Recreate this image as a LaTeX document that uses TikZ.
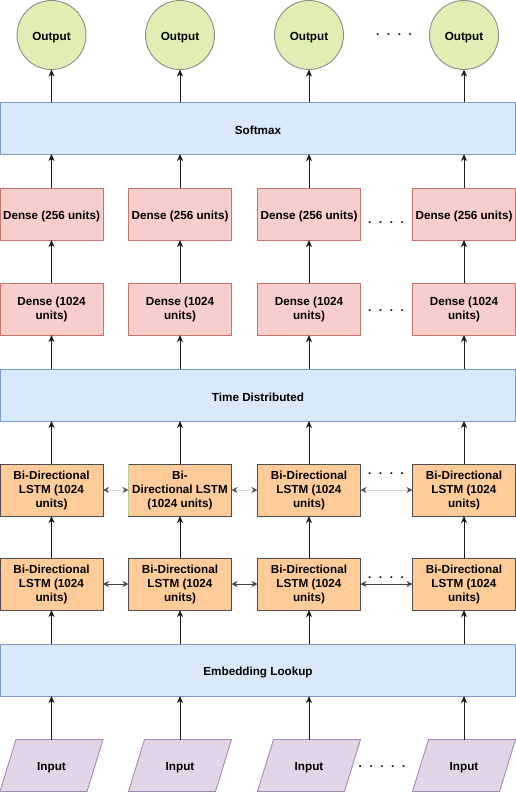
\documentclass[tikz,border=0pt]{standalone}
\usepackage{fontspec}
\setmainfont{Liberation Sans}
\usetikzlibrary{arrows.meta,backgrounds}
\definecolor{outfill}{HTML}{E0EEB3}
\definecolor{outstroke}{HTML}{8C8C8C}
\definecolor{barfill}{HTML}{DAE8FC}
\definecolor{barstroke}{HTML}{7E9CC8}
\definecolor{densefill}{HTML}{F8CECC}
\definecolor{densestroke}{HTML}{C8736E}
\definecolor{lstmfill}{HTML}{FFCC99}
\definecolor{lstmstroke}{HTML}{4D4D4D}
\definecolor{lstmalt}{HTML}{B8CC8E}
\definecolor{inpfill}{HTML}{E1D5E7}
\definecolor{inpstroke}{HTML}{A48AB3}
\definecolor{arrcol}{HTML}{1A1A1A}
\definecolor{lightline}{HTML}{D4D4D4}
\definecolor{headgray}{HTML}{555555}
\definecolor{darkline}{HTML}{444444}
\newcommand{\mydots}[1]{\foreach \i in {1,...,#1}{\ifnum\i>1\hspace{7.6pt}\fi.}}
\newcommand{\tstrut}{\rule{0pt}{13pt}}
\begin{document}
\begin{tikzpicture}[x=1pt,y=-1pt,
  font=\fontsize{11.7}{14}\selectfont\bfseries,
  every node/.style={inner sep=0pt, outer sep=0pt},
  shaped/.style={execute at begin node=\tstrut, line width=0.9pt},
  bar/.style={shaped, draw=barstroke, fill=barfill, minimum width=515, minimum height=52},
  densebox/.style={shaped, draw=densestroke, fill=densefill, minimum width=103, minimum height=52, align=center},
  lstmbox/.style={shaped, draw=lstmstroke, fill=lstmfill, minimum width=103, minimum height=52, align=center},
  outc/.style={shaped, circle, draw=outstroke, fill=outfill, minimum size=69},
  inpbox/.style={shaped, minimum width=103, minimum height=52},
  inpshape/.style={draw=inpstroke, fill=inpfill, line width=0.9pt},
  arr/.style={draw=arrcol, line width=1pt, -{Stealth[length=7pt,width=6pt,inset=2pt]}},
  lightarr/.style={draw=lightline, line width=1pt, {Stealth[length=6pt,width=6pt,inset=2pt,color=headgray]}-{Stealth[length=6pt,width=6pt,inset=2pt,color=headgray]}},
  darkarr/.style={draw=darkline, line width=1pt, {Stealth[length=6pt,width=6pt,inset=2pt]}-{Stealth[length=6pt,width=6pt,inset=2pt]}},
  dotsnode/.style={anchor=base}
]
\useasboundingbox (0,0) rectangle (516,792);

% outputs
\node[outc] (o1) at (51.5,35) {Output};
\node[outc] (o2) at (180,35) {Output};
\node[outc] (o3) at (309,35) {Output};
\node[outc] (o4) at (464,35) {Output};
\node[dotsnode] (do) at (394,36) {\mydots{4}};

% softmax
\node[bar] (soft) at (258,128) {Softmax};

% dense 256
\node[densebox] (a1) at (51.5,214) {Dense (256 units)};
\node[densebox] (a2) at (180,214) {Dense (256 units)};
\node[densebox] (a3) at (309,214) {Dense (256 units)};
\node[densebox] (a4) at (464,214) {Dense (256 units)};
\node[dotsnode] (da) at (386,223) {\mydots{4}};

% dense 1024
\node[densebox] (b1) at (51.5,309) {Dense (1024\\units)};
\node[densebox] (b2) at (180,309) {Dense (1024\\units)};
\node[densebox] (b3) at (309,309) {Dense (1024\\units)};
\node[densebox] (b4) at (464,309) {Dense (1024\\units)};
\node[dotsnode] (db) at (386,311) {\mydots{4}};

% time distributed
\node[bar] (td) at (258,395) {Time Distributed};

% LSTM row 1
\node[lstmbox] (l1) at (51.5,490) {Bi-Directional\\LSTM (1024\\units)};
\node[lstmbox] (l2) at (180,490) {Bi-\\Directional LSTM\\(1024 units)};
\node[lstmbox] (l3) at (309,490) {Bi-Directional\\LSTM (1024\\units)};
\node[lstmbox] (l4) at (464,490) {Bi-Directional\\LSTM (1024\\units)};
\draw[lstmalt, line width=0.9pt] (l2.north west) -- (l2.south west);
\node[dotsnode] (dl) at (386,474) {\mydots{4}};

% LSTM row 2
\node[lstmbox] (m1) at (51.5,584) {Bi-Directional\\LSTM (1024\\units)};
\node[lstmbox] (m2) at (180,584) {Bi-Directional\\LSTM (1024\\units)};
\node[lstmbox] (m3) at (309,584) {Bi-Directional\\LSTM (1024\\units)};
\node[lstmbox] (m4) at (464,584) {Bi-Directional\\LSTM (1024\\units)};
\node[dotsnode] (dm) at (386,578) {\mydots{4}};

% embedding
\node[bar] (emb) at (258,670) {Embedding Lookup};

% inputs
\node[inpbox] (i1) at (51.5,765.5) {Input};
\node[inpbox] (i2) at (180,765.5) {Input};
\node[inpbox] (i3) at (309,765.5) {Input};
\node[inpbox] (i4) at (464,765.5) {Input};
\node[dotsnode] (di) at (382,767) {\mydots{5}};
\begin{scope}[on background layer]
\foreach \c in {1,2,3,4}{
  \draw[inpshape] (i\c.south west) -- ([xshift=16pt]i\c.north west) -- (i\c.north east) -- ([xshift=-16pt]i\c.south east) -- cycle;
}
\end{scope}

% vertical arrows
\foreach \c in {1,2,3,4}{
  \draw[arr] (i\c.north) -- (i\c.north |- emb.south);
  \draw[arr] (m\c.north |- emb.north) -- (m\c.south);
  \draw[arr] (m\c.north) -- (l\c.south);
  \draw[arr] (l\c.north) -- (l\c.north |- td.south);
  \draw[arr] (b\c.south |- td.north) -- (b\c.south);
  \draw[arr] (b\c.north) -- (a\c.south);
  \draw[arr] (a\c.north) -- (a\c.north |- soft.south);
  \draw[arr] (o\c.south |- soft.north) -- (o\c.south);
}

% horizontal bidirectional arrows
\draw[lightarr] (l1.east) -- (l2.west);
\draw[lightarr] (l2.east) -- (l3.west);
\draw[lightarr] (l3.east) -- (l4.west);
\draw[darkarr] (m1.east) -- (m2.west);
\draw[darkarr] (m2.east) -- (m3.west);
\draw[darkarr] (m3.east) -- (m4.west);
\end{tikzpicture}
\end{document}
